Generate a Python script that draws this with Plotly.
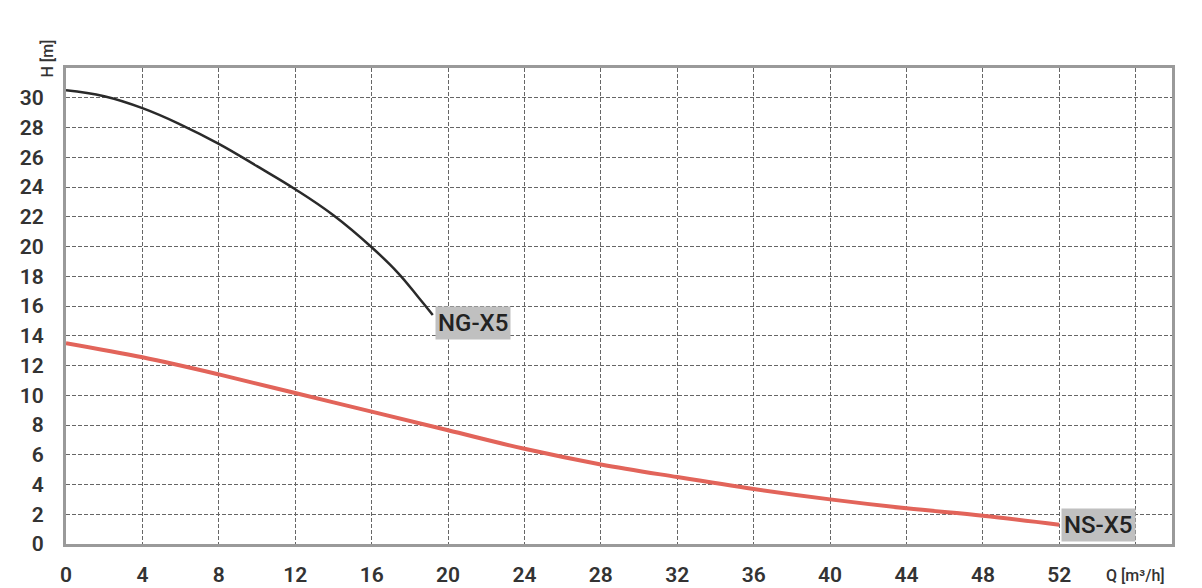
import plotly.graph_objects as go

# Data
ng_q = [0, 2, 4, 6, 8, 10, 12, 14, 16, 17.4, 18.5, 19.2]
ng_h = [30.5, 30.1, 29.3, 28.2, 26.9, 25.4, 23.85, 22.1, 19.95, 18.2, 16.5, 15.4]

ns_q = [0, 4, 8, 12, 16, 20, 24, 28, 32, 36, 40, 44, 48, 52]
ns_h = [13.5, 12.55, 11.4, 10.15, 8.9, 7.65, 6.4, 5.35, 4.5, 3.7, 3.0, 2.4, 1.9, 1.3]

x_ticks = [0, 4, 8, 12, 16, 20, 24, 28, 32, 36, 40, 44, 48, 52, 56]
x_labels = ["0", "4", "8", "12", "16", "20", "24", "28", "32", "36", "40", "44", "48", "52", ""]
y_ticks = list(range(0, 31, 2))

font = dict(family="Roboto", size=21, color="#333333", weight=600)

fig = go.Figure()
fig.add_trace(go.Scatter(x=ns_q, y=ns_h, mode="lines", line=dict(color="#e2645a", width=4, shape="spline", smoothing=1.0),
                         hoverinfo="skip", showlegend=False))
fig.add_trace(go.Scatter(x=ng_q, y=ng_h, mode="lines", line=dict(color="#2a2a2a", width=2.5, shape="spline", smoothing=1.2),
                         hoverinfo="skip", showlegend=False))

lab_font = dict(family="Roboto", size=24, color="#222", weight=500)
fig.add_annotation(x=ng_q[-1], y=ng_h[-1], text="NG-X5", showarrow=False, xanchor="left", yanchor="middle",
                   xshift=2, yshift=-8, bgcolor="#c0c0c0", font=lab_font, borderpad=2)
fig.add_annotation(x=ns_q[-1], y=ns_h[-1], text="NS-X5", showarrow=False, xanchor="left", yanchor="middle",
                   xshift=2, yshift=0, bgcolor="#c0c0c0", font=lab_font, borderpad=2)
fig.add_annotation(x=56, y=0, xref="x", yref="y", text="Q [m³/h]", showarrow=False, yanchor="middle",
                   yshift=-31, font=dict(family="Roboto", size=16, color="#333", weight=500))
fig.add_annotation(x=-0.028, y=1.063, xref="paper", yref="paper", text="H [m]", showarrow=False, textangle=-90,
                   font=dict(family="Roboto", size=16, color="#333", weight=500))

grid = dict(showgrid=True, gridcolor="#666", griddash="4px,2px", gridwidth=1, showline=True, linecolor="#9a9a9a",
            linewidth=3, mirror=True, ticks="outside", tickcolor="rgba(0,0,0,0)", tickfont=font,
            zeroline=False, automargin=False)
fig.update_xaxes(range=[0, 57.9], tickvals=x_ticks, ticktext=x_labels, ticklen=10, **grid)
fig.update_yaxes(range=[0, 32], tickvals=y_ticks, ticklen=15, **grid)
# page body has an 8px margin, so the figure is sized/offset to land on the reference pixels
fig.update_layout(width=1194, height=580, margin=dict(l=58, r=30, t=60, b=44), plot_bgcolor="white",
                  paper_bgcolor="white")
fig.write_html("out.html")
